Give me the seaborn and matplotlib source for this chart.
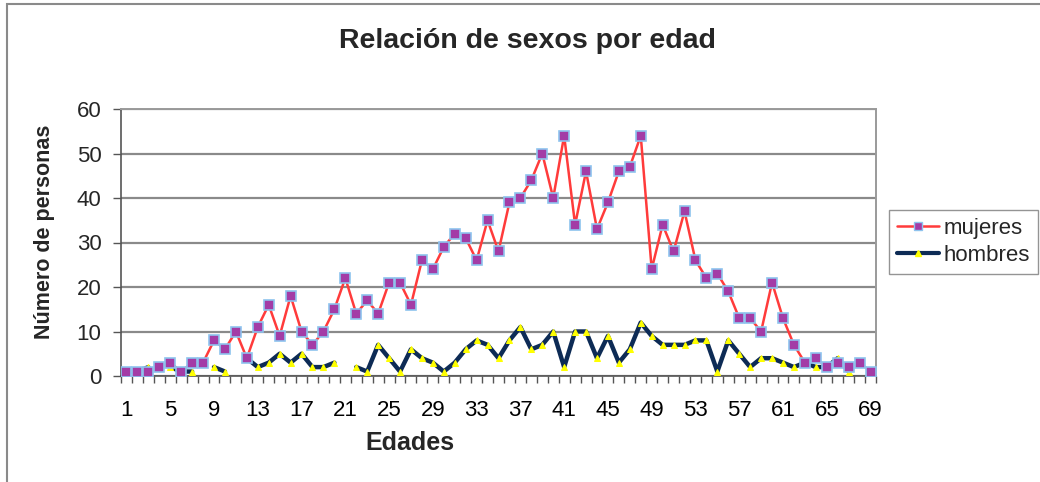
import numpy as np
import pandas as pd
import matplotlib
matplotlib.use("Agg")
import matplotlib.pyplot as plt
from matplotlib.lines import Line2D
from matplotlib.patches import Rectangle
import seaborn as sns

edades = list(range(1, 70))
mujeres = [1, 1, 1, 2, 3, 1, 3, 3, 8, 6, 10, 4, 11, 16, 9, 18, 10, 7, 10, 15,
           22, 14, 17, 14, 21, 21, 16, 26, 24, 29, 32, 31, 26, 35, 28, 39, 40, 44, 50, 40,
           54, 34, 46, 33, 39, 46, 47, 54, 24, 34, 28, 37, 26, 22, 23, 19, 13, 13, 10, 21,
           13, 7, 3, 4, 2, 3, 2, 3, 1]
hombres = [1, 1, 2, np.nan, 2, 1, 1, np.nan, 2, 1, np.nan, 4, 2, 3, 5, 3, 5, 2, 2, 3,
           np.nan, 2, 1, 7, 4, 1, 6, 4, 3, 1, 3, 6, 8, 7, 4, 8, 11, 6, 7, 10,
           2, 10, 10, 4, 9, 3, 6, 12, 9, 7, 7, 7, 8, 8, 1, 8, 5, 2, 4, 4,
           3, 2, 3, 2, 2, 4, 1, np.nan, np.nan]
x_labels = [str(v) for v in range(1, 70, 4)]

titulo = "Relación de sexos por edad"
ylab = "Número de personas"
xlab = "Edades"

sns.set_theme(style="white")
plt.rcParams['font.family'] = ['Liberation Sans', 'DejaVu Sans']

df_m = pd.DataFrame({"edad": edades, "n": mujeres})
df_h = pd.DataFrame({"edad": edades, "n": hombres})
df_h["seg"] = df_h["n"].isna().cumsum()
df_h = df_h.dropna()

fig = plt.figure(figsize=(10.4, 4.82), dpi=100)
ax = fig.add_axes([121 / 1040, 1 - 376 / 482, (876 - 121) / 1040, (376 - 109) / 482])

red = "#ff3b3b"
purple = "#a33ca6"
navy = "#0d2b55"
yellow = "#ffff00"

sns.lineplot(data=df_h, x="edad", y="n", units="seg", estimator=None, ax=ax,
             color=navy, lw=3.2, marker="^", markersize=4.5, markerfacecolor=yellow,
             markeredgecolor=yellow, zorder=3, legend=False)
sns.lineplot(data=df_m, x="edad", y="n", ax=ax, color=red, lw=1.8, marker="s",
             markersize=7.5, markerfacecolor=purple, markeredgecolor="#8ec3ee",
             markeredgewidth=1.2, zorder=4, legend=False)

ax.set_xlim(0.5, 69.5)
ax.set_ylim(0, 60)
ax.set_yticks(range(0, 61, 10))
ax.set_xticks(range(1, 70, 4))
ax.set_xticklabels(x_labels)
ax.set_xticks(np.arange(0.5, 70, 1), minor=True)
ax.tick_params(axis="x", which="major", length=0, labelsize=16, pad=17, colors="#000000")
ax.tick_params(axis="x", which="minor", length=5, width=1, color="#555555", direction="out", bottom=True)
ax.tick_params(axis="y", length=6, width=1, color="#555555", labelsize=16, pad=8, left=True)
ax.yaxis.grid(True, color="#8a8a8a", lw=1.6)
ax.set_axisbelow(True)

for s in ["left", "bottom"]:
    ax.spines[s].set_color("#555555")
    ax.spines[s].set_linewidth(1.2)
for s in ["top", "right"]:
    ax.spines[s].set_color("#9a9a9a")
    ax.spines[s].set_linewidth(1.4)

ax.set_xlabel(xlab, fontsize=18, fontweight="bold")
ax.xaxis.label.set_va("center")
ax.xaxis.set_label_coords((410 - 121) / 755, -(443 - 376) / 267)
ax.set_ylabel(ylab, fontsize=15.5, fontweight="bold")
ax.yaxis.label.set_va("center")
ax.yaxis.set_label_coords((45 - 121) / 755, (376 - 232) / 267)
fig.text(527 / 1040, 1 - 41 / 482, titulo, ha="center", va="center",
         fontsize=20.5, fontweight="bold")

handles = [
    Line2D([], [], color=red, lw=1.8, marker="s", markersize=6, markerfacecolor=purple,
           markeredgecolor="#8ec3ee"),
    Line2D([], [], color=navy, lw=3, marker="^", markersize=4.5, markerfacecolor=yellow,
           markeredgecolor=yellow),
]
leg = fig.legend(handles, ["mujeres", "hombres"], loc="center left",
                 bbox_to_anchor=(889 / 1040, 1 - 242 / 482), fontsize=16,
                 frameon=True, fancybox=False, handlelength=1.9, handletextpad=0.2,
                 borderpad=0.35, labelspacing=0.25, borderaxespad=0)
leg.get_frame().set_edgecolor("#7a7a7a")
leg.get_frame().set_linewidth(1.0)

fig.patches.append(Rectangle((7 / 1040, -0.1), 1.2, 1 - 4 / 482 + 0.1, transform=fig.transFigure,
                             fill=False, edgecolor="#8a8a8a", lw=1.5, zorder=0))

fig.savefig("out.png", dpi=100)
